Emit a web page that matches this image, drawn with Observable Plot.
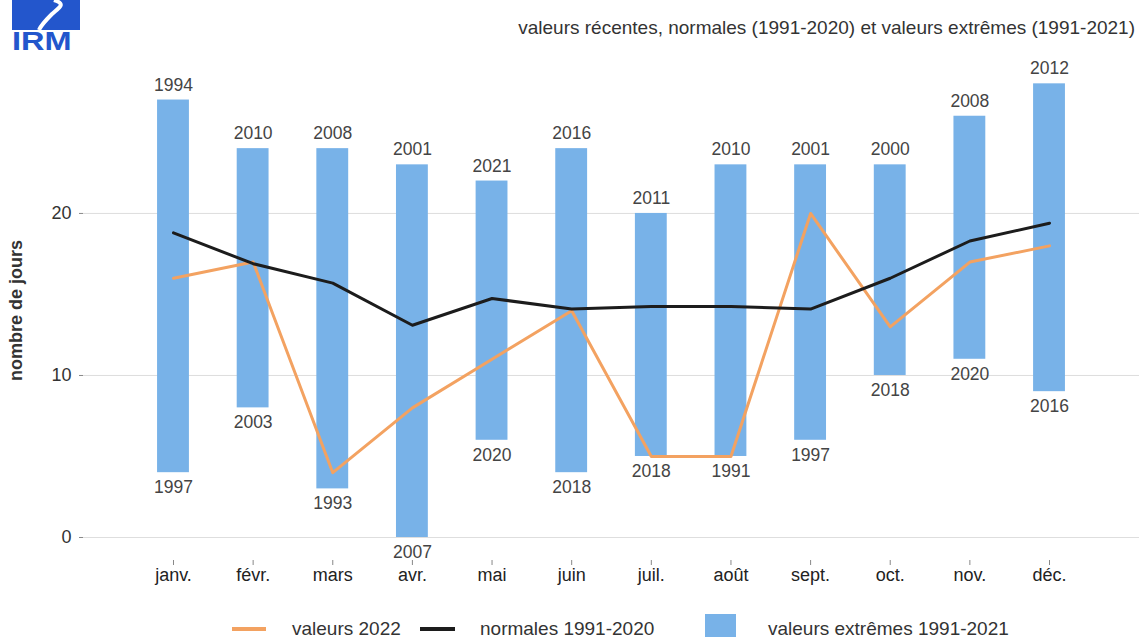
<!DOCTYPE html>
<html>
<head>
<meta charset="utf-8">
<script src="https://cdn.jsdelivr.net/npm/d3@7"></script>
<script src="https://cdn.jsdelivr.net/npm/@observablehq/plot@0.6"></script>
<style>
  body { margin: 0; background: #fff; font-family: "Liberation Sans", Arial, sans-serif; width: 1139px; height: 637px; overflow: hidden; position: relative; }
  #header { position: relative; height: 55px; }
  #logo { position: absolute; left: 12px; top: 0; width: 68px; }
  #logo .box { width: 68px; height: 30px; background: #2356cc; position: relative; overflow: hidden; }
  #logo .irm { color: #2356cc; font-size: 25px; font-weight: bold; line-height: 22px; transform: scaleX(1.3); transform-origin: left center; display: inline-block; }
  #subtitle { position: absolute; right: 4px; top: 17px; font-size: 19px; color: #333; white-space: nowrap; }
  #chart svg { display: block; }
  g[aria-label="y-axis label"] text { font-weight: bold; }
  #legend { position: absolute; left: 0; top: 612px; width: 1139px; height: 25px; font-size: 19px; color: #333; }
  #legend .it { position: absolute; top: 6px; white-space: nowrap; }
  #legend .sw { position: absolute; }
</style>
</head>
<body>
<div id="header">
  <div id="logo">
    <div class="box"><svg width="68" height="30" style="position:absolute;left:0;top:0"><path d="M42,0 C54,4 48,7 40,14 C34,20 29,25 27,30" fill="none" stroke="#fff" stroke-width="4"/></svg></div>
    <div class="irm">IRM</div>
  </div>
  <div id="subtitle">valeurs récentes, normales (1991-2020) et valeurs extrêmes (1991-2021)</div>
</div>
<div id="chart"></div>
<div id="legend">
  <div class="sw" style="left:232px;top:15px;width:34px;height:4px;background:#f3a261"></div>
  <div class="it" style="left:292px">valeurs 2022</div>
  <div class="sw" style="left:420px;top:15px;width:35px;height:4px;background:#1c1c1c"></div>
  <div class="it" style="left:480px">normales 1991-2020</div>
  <div class="sw" style="left:705px;top:2px;width:31px;height:25px;background:#78b2e8"></div>
  <div class="it" style="left:768px">valeurs extrêmes 1991-2021</div>
</div>
<script>
const months = ["janv.", "févr.", "mars", "avr.", "mai", "juin", "juil.", "août", "sept.", "oct.", "nov.", "déc."];
const maxValues = [27, 24, 24, 23, 22, 24, 20, 23, 23, 23, 26, 28];
const maxYears  = ["1994", "2010", "2008", "2001", "2021", "2016", "2011", "2010", "2001", "2000", "2008", "2012"];
const minValues = [4, 8, 3, 0, 6, 4, 5, 5, 6, 10, 11, 9];
const minYears  = ["1997", "2003", "1993", "2007", "2020", "2018", "2018", "1991", "1997", "2018", "2020", "2016"];
const values2022 = [16, 17, 4, 8, 11, 14, 5, 5, 20, 13, 17, 18];
const normals = [18.8, 16.9, 15.7, 13.1, 14.75, 14.1, 14.25, 14.25, 14.1, 16.0, 18.3, 19.4];
const yTicks = [0, 10, 20];

const data = months.map((m, i) => ({
  month: m, max: maxValues[i], maxYear: maxYears[i], min: minValues[i], minYear: minYears[i],
  v2022: values2022[i], normal: normals[i]
}));

const chart = Plot.plot({
  width: 1139,
  height: 535,
  marginLeft: 83,
  marginRight: 0,
  marginTop: 5,
  marginBottom: 30,
  style: { fontFamily: "'Liberation Sans', Arial, sans-serif", fontSize: "18px", color: "#333", background: "white" },
  x: { domain: months, type: "band", paddingInner: 0.6, paddingOuter: 0.93, round: false, label: null },
  y: { domain: [-1.42, 29.44], label: null },
  marks: [
    Plot.gridY(yTicks, { stroke: "#dedede", strokeOpacity: 1, strokeWidth: 1 }),
    Plot.barY(data, { x: "month", y1: "min", y2: "max", fill: "#78b2e8" }),
    Plot.lineY(data, { x: "month", y: "v2022", stroke: "#f3a261", strokeWidth: 3 }),
    Plot.lineY(data, { x: "month", y: "normal", stroke: "#1c1c1c", strokeWidth: 3 }),
    Plot.text(data, { x: "month", y: "max", text: "maxYear", dy: -15, fill: "#444", fontSize: 17.5 }),
    Plot.text(data, { x: "month", y: "min", text: "minYear", dy: 15, fill: "#444", fontSize: 17.5 }),
    Plot.axisY(yTicks, { tickSize: 4, tickPadding: 8, stroke: "#888", fill: "#333", fontSize: 18, label: "nombre de jours", labelAnchor: "center", labelOffset: 74, labelArrow: "none" }),
    Plot.axisX({ tickSize: 5, tickPadding: 3, stroke: "#888", fill: "#222", fontSize: 18, label: null })
  ]
});
document.getElementById("chart").appendChild(chart);
</script>
</body>
</html>
